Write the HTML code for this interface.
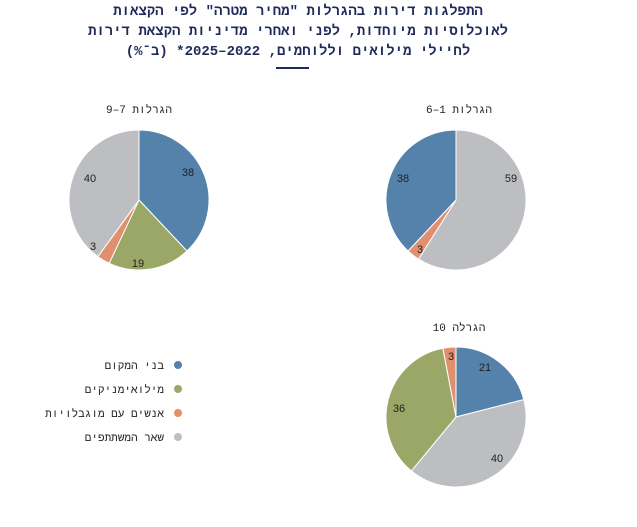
<!DOCTYPE html>
<html><head><meta charset="utf-8"><style>
body{margin:0;background:#fff;width:637px;height:522px;overflow:hidden;font-family:"Liberation Sans","DejaVu Sans",sans-serif}
</style></head><body>
<svg id="s" width="637" height="522" xmlns="http://www.w3.org/2000/svg" font-family="Liberation Mono, DejaVu Sans Mono, monospace">
<g fill="#1f2a5a" font-weight="bold" font-size="14" text-anchor="middle" direction="rtl">
<text x="298" y="15">התפלגות דירות בהגרלות "מחיר מטרה" לפי הקצאות</text>
<text x="298" y="35">לאוכלוסיות מיוחדות, לפני ואחרי מדיניות הקצאת דירות</text>
<text x="298" y="55">לחיילי מילואים וללוחמים, 2022–2025* (ב־%)</text>
</g>
<rect x="276" y="67" width="33" height="2" fill="#1f2a5a"/>
<g font-size="11" fill="#222" text-anchor="middle" direction="rtl">
<text x="139" y="113">הגרלות 7–9</text>
<text x="459" y="113">הגרלות 1–6</text>
<text x="459" y="331">הגרלה 10</text>
</g>
<g id="pies"></g>
<g font-size="11" fill="#222" text-anchor="middle" font-family="Liberation Sans, sans-serif">
<text x="188" y="176">38</text><text x="138" y="267">19</text><text x="93" y="250">3</text><text x="90" y="182">40</text>
<text x="511" y="182">59</text><text x="420" y="253">3</text><text x="403" y="182">38</text>
<text x="485" y="371">21</text><text x="497" y="462">40</text><text x="399" y="412">36</text><text x="451" y="360">3</text>
</g>
<circle cx="178" cy="365" r="4" fill="#5582ab"/>
<circle cx="178" cy="389" r="4" fill="#9aa766"/>
<circle cx="178" cy="413" r="4" fill="#e0906e"/>
<circle cx="178" cy="437" r="4" fill="#bdbec2"/>
<g font-size="11" fill="#222" text-anchor="start" direction="rtl">
<text x="164" y="369">בני המקום</text>
<text x="164" y="393">מילואימניקים</text>
<text x="164" y="417">אנשים עם מוגבלויות</text>
<text x="164" y="441">שאר המשתתפים</text>
</g>
</svg>
<script>
var C={b:"#5582ab",g:"#9aa766",o:"#e0906e",y:"#bdbec2"};
function pie(cx,cy,r,d){var a=0,t=d.reduce((s,x)=>s+x[0],0),h="";
d.forEach(function(x){var a0=a/t*2*Math.PI;a+=x[0];var a1=a/t*2*Math.PI;
var x0=cx+r*Math.sin(a0),y0=cy-r*Math.cos(a0),x1=cx+r*Math.sin(a1),y1=cy-r*Math.cos(a1);
h+='<path d="M'+cx+','+cy+'L'+x0+','+y0+'A'+r+','+r+' 0 '+((a1-a0)>Math.PI?1:0)+' 1 '+x1+','+y1+'Z" fill="'+C[x[1]]+'" stroke="#fff" stroke-width="1"/>';});
return h;}
document.getElementById("pies").innerHTML=
pie(139,200,70,[[38,'b'],[19,'g'],[3,'o'],[40,'y']])+
pie(456,200,70,[[59,'y'],[3,'o'],[38,'b']])+
pie(456,417,70,[[21,'b'],[40,'y'],[36,'g'],[3,'o']]);
</script>
</body></html>
